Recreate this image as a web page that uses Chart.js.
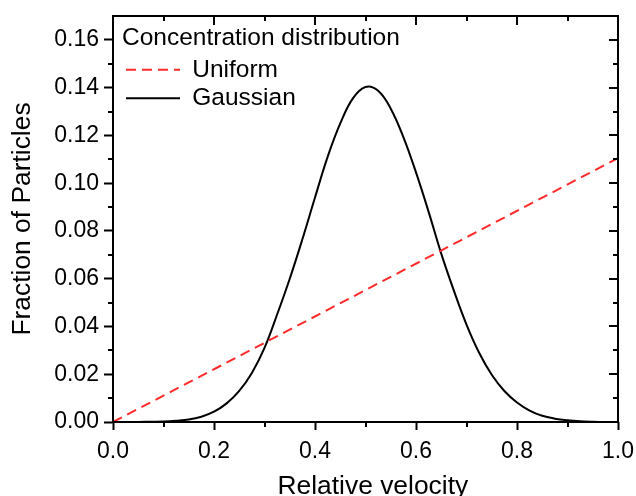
<!DOCTYPE html>
<html>
<head>
<meta charset="utf-8">
<script src="https://cdn.jsdelivr.net/npm/chart.js@4/dist/chart.umd.min.js"></script>
<style>
  html, body { margin: 0; padding: 0; background: #fff; overflow: hidden; }
  canvas { display: block; }
</style>
</head>
<body>
<canvas id="chart" width="636" height="496"></canvas>
<script>
// ============================================
// Data
// ============================================

const velocity = [
    0.000, 0.025, 0.050, 0.075, 0.100, 0.125, 0.150, 0.175, 0.200, 0.225,
    0.250, 0.275, 0.300, 0.325, 0.350, 0.375, 0.400, 0.425, 0.450, 0.475,
    0.500, 0.525, 0.550, 0.575, 0.600, 0.625, 0.650, 0.675, 0.700, 0.725,
    0.750, 0.775, 0.800, 0.825, 0.850, 0.875, 0.900, 0.925, 0.950, 0.975,
    1.000
];

const gaussian = [
    0.0000, 0.0000, 0.0000, 0.0001, 0.0002, 0.0005, 0.0010, 0.0022, 0.0043, 0.0078,
    0.0130, 0.0205, 0.0310, 0.0450, 0.0600, 0.0765, 0.0940, 0.1110, 0.1250, 0.1355,
    0.1403, 0.1387, 0.1312, 0.1193, 0.1045, 0.0880, 0.0705, 0.0550, 0.0408, 0.0290,
    0.0198, 0.0130, 0.0082, 0.0048, 0.0026, 0.0014, 0.0007, 0.0003, 0.0001, 0.0000,
    0.0000
];

const uniformX = [0, 1];
const uniformY = [0, 0.1105];

const xMajorTicks = [0, 0.2, 0.4, 0.6, 0.8, 1.0];
const xMinorTicks = [0.1, 0.3, 0.5, 0.7, 0.9];
const yMajorTicks = [0, 0.02, 0.04, 0.06, 0.08, 0.10, 0.12, 0.14, 0.16];
const yMinorTicks = [0.01, 0.03, 0.05, 0.07, 0.09, 0.11, 0.13, 0.15];

const FONT = '"Liberation Sans", Arial, Helvetica, sans-serif';

// ============================================
// Frame plugin: box, minor ticks, mirrored inward ticks
// ============================================

const frameTicks = {
    id: 'frameTicks',

    afterLayout(chart) {
        // legend sits inside the plot, top-left
        const lg = chart.legend;
        if (lg) {
            lg.left = chart.chartArea.left + 9;
            lg.top = chart.chartArea.top;
        }
    },

    afterDatasetsDraw(chart) {
        const { ctx, chartArea: a, scales: { x, y } } = chart;
        ctx.save();
        ctx.strokeStyle = '#000';
        ctx.lineWidth = 2;
        ctx.setLineDash([]);
        ctx.beginPath();

        xMinorTicks.forEach(v => {
            const px = Math.round(x.getPixelForValue(v));
            ctx.moveTo(px, a.bottom); ctx.lineTo(px, a.bottom + 5);
            ctx.moveTo(px, a.top); ctx.lineTo(px, a.top + 5);
        });
        xMajorTicks.forEach(v => {
            const px = Math.round(x.getPixelForValue(v));
            ctx.moveTo(px, a.top); ctx.lineTo(px, a.top + 9);
        });
        yMinorTicks.forEach(v => {
            const py = Math.round(y.getPixelForValue(v));
            ctx.moveTo(a.left, py); ctx.lineTo(a.left - 5, py);
            ctx.moveTo(a.right, py); ctx.lineTo(a.right - 5, py);
        });
        yMajorTicks.forEach(v => {
            const py = Math.round(y.getPixelForValue(v));
            ctx.moveTo(a.right, py); ctx.lineTo(a.right - 9, py);
        });
        ctx.stroke();

        ctx.strokeRect(a.left, a.top, a.right - a.left, a.bottom - a.top);
        ctx.restore();
    }
};

// ============================================
// Chart
// ============================================

const ctx = document.getElementById('chart').getContext('2d');

new Chart(ctx, {
    type: 'line',
    data: {
        datasets: [
            {
                label: 'Uniform',
                data: uniformX.map((v, i) => ({ x: v, y: uniformY[i] })),
                borderColor: '#ff2b2b',
                borderWidth: 2,
                borderDash: [10, 6],
                pointRadius: 0,
                fill: false
            },
            {
                label: 'Gaussian',
                data: velocity.map((v, i) => ({ x: v, y: gaussian[i] })),
                borderColor: '#000',
                borderWidth: 2,
                pointRadius: 0,
                tension: 0.4,
                fill: false
            }
        ]
    },
    options: {
        responsive: false,
        devicePixelRatio: 1,
        animation: false,
        layout: {
            padding: { left: 0, top: 16, right: 18, bottom: 0 }
        },
        scales: {
            x: {
                type: 'linear',
                min: 0,
                max: 1,
                afterFit: scale => {
                    scale.height = 74;
                    scale.paddingLeft = 0;
                    scale.paddingRight = 0;
                },
                border: { display: false },
                grid: {
                    drawOnChartArea: false,
                    drawTicks: true,
                    tickLength: 8,
                    tickWidth: 2,
                    tickColor: '#000'
                },
                ticks: {
                    stepSize: 0.2,
                    includeBounds: false,
                    padding: 10,
                    color: '#000',
                    maxRotation: 0,
                    font: { family: FONT, size: 23, lineHeight: 1 },
                    callback: v => v.toFixed(1)
                },
                title: {
                    display: true,
                    text: '  Relative velocity',
                    color: '#000',
                    padding: { top: 0, bottom: -4 },
                    font: { family: FONT, size: 26.4, lineHeight: 1 }
                }
            },
            y: {
                type: 'linear',
                min: 0,
                max: 0.17,
                afterFit: scale => {
                    scale.width = 113;
                    scale.paddingTop = 0;
                    scale.paddingBottom = 0;
                },
                border: { display: false },
                grid: {
                    drawOnChartArea: false,
                    drawTicks: true,
                    tickLength: 9,
                    tickWidth: 2,
                    tickColor: '#000'
                },
                ticks: {
                    stepSize: 0.02,
                    includeBounds: false,
                    padding: 5,
                    color: '#000',
                    font: { family: FONT, size: 23, lineHeight: 1 },
                    callback: v => v.toFixed(2)
                },
                title: {
                    display: true,
                    text: 'Fraction of Particles',
                    color: '#000',
                    padding: { top: 10, bottom: 0 },
                    font: { family: FONT, size: 26.4, lineHeight: 1 }
                }
            }
        },
        plugins: {
            legend: {
                position: 'chartArea',
                align: 'start',
                title: {
                    display: true,
                    text: 'Concentration distribution',
                    position: 'start',
                    color: '#000',
                    padding: { top: 10, bottom: 3 },
                    font: { family: FONT, size: 24.5, lineHeight: 1 }
                },
                labels: {
                    usePointStyle: true,
                    pointStyle: 'line',
                    pointStyleWidth: 54,
                    padding: 4,
                    color: '#000',
                    font: { family: FONT, size: 24.5 },
                    // line samples take dash and width from the dataset line
                    generateLabels: chart =>
                        Chart.defaults.plugins.legend.labels.generateLabels(chart).map(item => {
                            const ds = chart.data.datasets[item.datasetIndex];
                            return Object.assign(item, {
                                lineDash: ds.borderDash || [],
                                lineWidth: ds.borderWidth,
                                strokeStyle: ds.borderColor
                            });
                        })
                }
            },
            tooltip: { enabled: false }
        }
    },
    plugins: [frameTicks]
});
</script>
</body>
</html>
